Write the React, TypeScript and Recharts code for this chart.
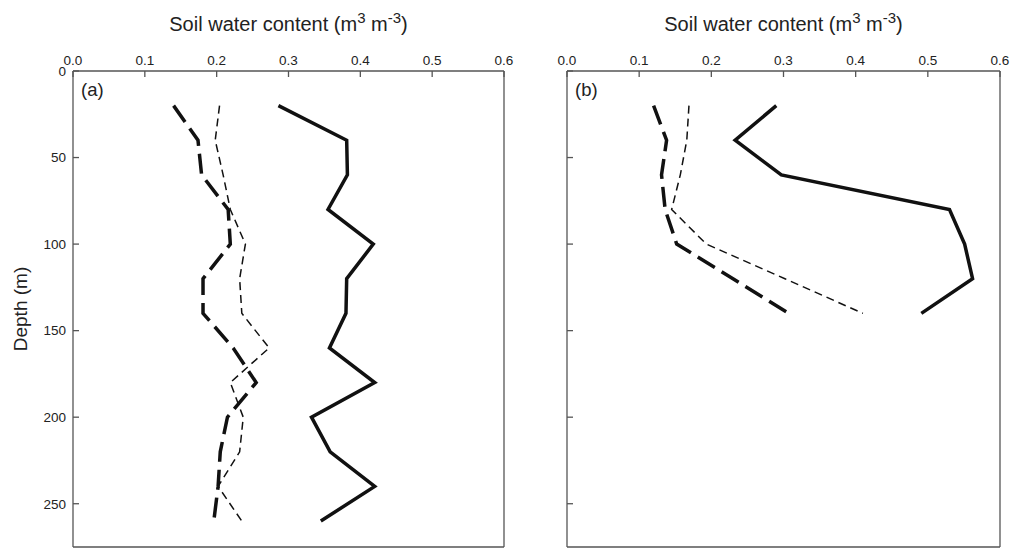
import React from 'react';
import { LineChart, Line, XAxis, YAxis } from 'recharts';

const depthsA = [20, 40, 60, 80, 100, 120, 140, 160, 180, 200, 220, 240, 260];
const solidA = [0.286, 0.381, 0.382, 0.355, 0.418, 0.381, 0.38, 0.357, 0.42, 0.332, 0.358, 0.42, 0.345];
const thinA = [0.204, 0.198, 0.209, 0.219, 0.24, 0.232, 0.235, 0.273, 0.219, 0.237, 0.232, 0.202, 0.235];
const thickA = [0.14, 0.174, 0.179, 0.216, 0.219, 0.181, 0.181, 0.223, 0.255, 0.215, 0.205, 0.202, 0.196];

const depthsB = [20, 40, 60, 80, 100, 120, 140];
const solidB = [0.29, 0.233, 0.297, 0.53, 0.551, 0.562, 0.491];
const thinB = [0.169, 0.166, 0.157, 0.145, 0.193, 0.302, 0.41];
const thickB = [0.12, 0.138, 0.131, 0.136, 0.152, 0.23, 0.307];

const xTicks = [0, 0.1, 0.2, 0.3, 0.4, 0.5, 0.6];
const yTicks = [0, 50, 100, 150, 200, 250];

const dataA = depthsA.map((d, i) => ({ depth: d, solid: solidA[i], thin: thinA[i], thick: thickA[i] }));
const dataB = depthsB.map((d, i) => ({ depth: d, solid: solidB[i], thin: thinB[i], thick: thickB[i] }));

const FONT = 'Liberation Sans, Arial, Helvetica, sans-serif';
const AXIS = '#555';
const INK = '#111';
const TEXT = '#222';
const TICK_LEN = 6;
const X_MARGIN = 6;
const Y_MARGIN = 7;

const Title = (props: any) => {
  const vb = props.viewBox || {};
  const cx = vb.x + vb.width / 2;
  return (
    <text x={cx} y={31} textAnchor="middle" fontFamily={FONT} fontSize={20} fill={TEXT}>
      <tspan>Soil water content (m</tspan>
      <tspan dy={-8} fontSize={15}>3</tspan>
      <tspan dy={8}> m</tspan>
      <tspan dy={-8} fontSize={15}>-3</tspan>
      <tspan dy={8}>)</tspan>
    </text>
  );
};

const DepthLabel = (props: any) => {
  const vb = props.viewBox || {};
  const cy = vb.y + vb.height / 2;
  const x = 27;
  return (
    <text x={x} y={cy} transform={`rotate(-90, ${x}, ${cy})`} textAnchor="middle" fontFamily={FONT} fontSize={19} fill={TEXT}>
      Depth (m)
    </text>
  );
};

const TopTick = (props: any) => {
  const { x, y, payload } = props;
  const axisY = y + X_MARGIN;
  return (
    <g>
      <line x1={x} x2={x} y1={axisY} y2={axisY + TICK_LEN} stroke={AXIS} strokeWidth={1.3} />
      <text x={x} y={y} textAnchor="middle" fontFamily={FONT} fontSize={13.5} fill={TEXT}>
        {Number(payload.value).toFixed(1)}
      </text>
    </g>
  );
};

const makeLeftTick = (showLabel: boolean) => (props: any) => {
  const { x, y, payload } = props;
  const axisX = x + (showLabel ? Y_MARGIN : 0);
  return (
    <g>
      <line x1={axisX} x2={axisX + TICK_LEN} y1={y} y2={y} stroke={AXIS} strokeWidth={1.3} />
      {showLabel ? (
        <text x={x} y={y} dy="0.36em" textAnchor="end" fontFamily={FONT} fontSize={13.5} fill={TEXT}>
          {payload.value}
        </text>
      ) : null}
    </g>
  );
};

const LeftTickLabeled = makeLeftTick(true);
const LeftTickBare = makeLeftTick(false);

function Panel({ data, showY }: { data: any[]; showY: boolean }) {
  return (
    <LineChart
      width={showY ? 520 : 496}
      height={551}
      data={data}
      layout="vertical"
      margin={{ top: 41, right: 15, bottom: 3, left: showY ? 28 : 37 }}
    >
      <XAxis
        xAxisId="top"
        type="number"
        orientation="top"
        domain={[0, 0.6]}
        ticks={xTicks}
        height={30}
        tickSize={0}
        tickLine={false}
        tickMargin={X_MARGIN}
        tick={<TopTick />}
        stroke={AXIS}
        strokeWidth={1.3}
        interval={0}
        allowDataOverflow
        label={<Title />}
      />
      <XAxis
        xAxisId="bottom"
        type="number"
        orientation="bottom"
        domain={[0, 1]}
        height={1}
        tick={false}
        tickLine={false}
        stroke={AXIS}
        strokeWidth={1.3}
      />
      <YAxis
        yAxisId="left"
        type="number"
        dataKey="depth"
        domain={[0, 275]}
        ticks={yTicks}
        width={showY ? 45 : 10}
        tickSize={0}
        tickLine={false}
        tickMargin={showY ? Y_MARGIN : 0}
        tick={showY ? <LeftTickLabeled /> : <LeftTickBare />}
        stroke={AXIS}
        strokeWidth={1.3}
        interval={0}
        label={showY ? <DepthLabel /> : undefined}
      />
      <YAxis
        yAxisId="right"
        type="number"
        orientation="right"
        domain={[0, 1]}
        width={1}
        tick={false}
        tickLine={false}
        stroke={AXIS}
        strokeWidth={1.3}
      />
      <Line
        xAxisId="top"
        yAxisId="left"
        dataKey="solid"
        stroke={INK}
        strokeWidth={3.5}
        dot={false}
        isAnimationActive={false}
        strokeLinejoin="miter"
      />
      <Line
        xAxisId="top"
        yAxisId="left"
        dataKey="thick"
        stroke={INK}
        strokeWidth={3.5}
        strokeDasharray="20 8"
        dot={false}
        isAnimationActive={false}
      />
      <Line
        xAxisId="top"
        yAxisId="left"
        dataKey="thin"
        stroke={INK}
        strokeWidth={1.5}
        strokeDasharray="8 5"
        dot={false}
        isAnimationActive={false}
      />
    </LineChart>
  );
}

export default function App() {
  const panelLabel: React.CSSProperties = {
    position: 'absolute',
    fontFamily: FONT,
    fontSize: 18.5,
    color: TEXT,
    lineHeight: '18px',
  };
  return (
    <div style={{ position: 'absolute', left: 0, top: 0, width: 1016, height: 551, background: '#fff', overflow: 'hidden' }}>
      <div style={{ position: 'absolute', left: 0, top: 0 }}>
        <Panel data={dataA} showY={true} />
      </div>
      <div style={{ position: 'absolute', left: 520, top: 0 }}>
        <Panel data={dataB} showY={false} />
      </div>
      <div style={{ ...panelLabel, left: 81, top: 81 }}>(a)</div>
      <div style={{ ...panelLabel, left: 575, top: 81 }}>(b)</div>
    </div>
  );
}
